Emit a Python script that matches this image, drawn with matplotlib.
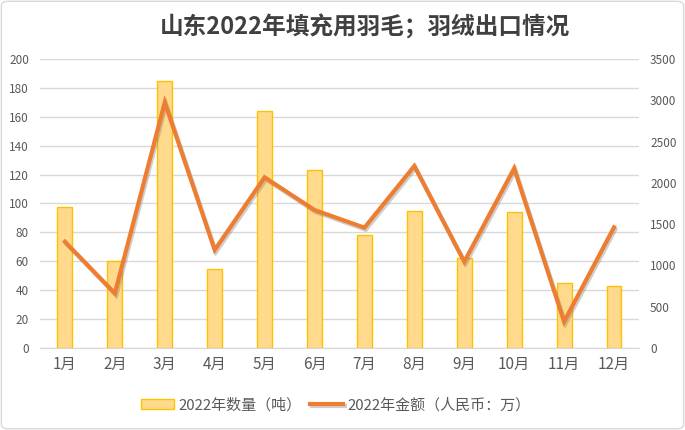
import numpy as np
import matplotlib.pyplot as plt
import matplotlib.patheffects as pe
from matplotlib.patches import FancyBboxPatch

plt.rcParams['font.family'] = ['Noto Sans CJK SC', 'DejaVu Sans']

# 数据
months = ['1月', '2月', '3月', '4月', '5月', '6月', '7月', '8月', '9月', '10月', '11月', '12月']
quantity = [97.5, 60, 184.5, 54.5, 163.8, 123, 78, 94.6, 62, 93.9, 44.8, 42.7]
amount = [1287, 662, 2975, 1187, 2067, 1671, 1457, 2204, 1045, 2176, 319, 1461]

fig = plt.figure(figsize=(6.85, 4.3), dpi=100)
ax = fig.add_axes([0.0584, 0.1907, 0.8744, 0.6721])
ax2 = ax.twinx()

x = np.arange(len(months))
bars = ax.bar(x, quantity, width=0.3, color='#FFD98C', edgecolor='#FFC000',
              linewidth=1.0, label='2022年数量（吨）', zorder=2)
line, = ax2.plot(x, amount, color='#ED7D31', linewidth=3, label='2022年金额（人民币：万）',
                 solid_joinstyle='miter',
                 path_effects=[pe.SimpleLineShadow(offset=(1, -1.5), shadow_color='#777777', alpha=0.35),
                               pe.Normal()])

ax.set_xlim(-0.5, len(months) - 0.5)
ax.set_ylim(0, 200)
ax.set_yticks(np.arange(0, 201, 20))
ax2.set_ylim(0, 3500)
ax2.set_yticks(np.arange(0, 3501, 500))

ax.set_xticks(x)
ax.set_xticklabels(months, fontsize=11, color='#595959')
ax.tick_params(axis='y', labelsize=8.5, labelcolor='#595959', length=0, pad=8)
ax2.tick_params(axis='y', labelsize=8.5, labelcolor='#595959', length=0, pad=8)
ax.tick_params(axis='x', length=0, pad=6)

ax.grid(axis='y', color='#D9D9D9', linewidth=1, zorder=0)
ax.set_axisbelow(True)
for a in (ax, ax2):
    for s in ('top', 'left', 'right'):
        a.spines[s].set_visible(False)
    a.spines['bottom'].set_color('#D9D9D9')

fig.text(0.533, 0.94, '山东2022年填充用羽毛；羽绒出口情况', ha='center', va='center',
         fontsize=17, fontweight='bold', color='#404040')

fig.legend(handles=[bars, line], loc='center', bbox_to_anchor=(0.49, 0.058), ncol=2,
           frameon=False, fontsize=10.8, labelcolor='#595959', handlelength=2.2,
           handletextpad=0.3, columnspacing=0.6)

border = FancyBboxPatch((0.002, 0.003), 0.996, 0.994, boxstyle='round,pad=0,rounding_size=0.01',
                        transform=fig.transFigure, facecolor='none', edgecolor='#D9D9D9', linewidth=1)
fig.patches.append(border)

fig.savefig('out.png', dpi=100)
